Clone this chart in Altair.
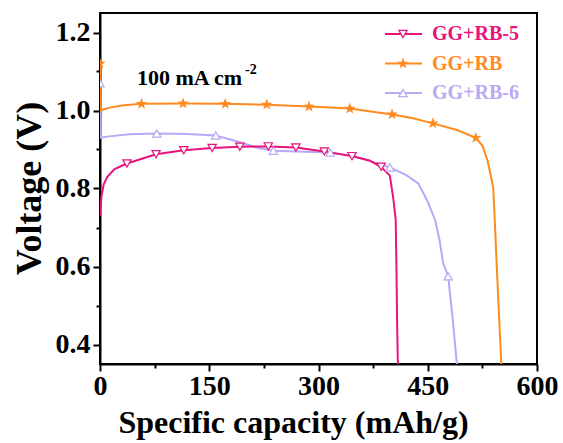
import altair as alt
import pandas as pd

# ---- data ----
SERIES = ["GG+RB-5", "GG+RB", "GG+RB-6"]
LINE_COLORS = ["#E8137C", "#FF8A1E", "#B9A8F5"]
TEXT_COLORS = ["#E0157A", "#EE8B63", "#BBAAF5"]
MARKER_FILLS = ["#FFFFFF", "#FF8A1E", "#FFFFFF"]

# GG+RB-5 (pink)
rb5_x = [0, 2, 5, 10, 20, 37, 77, 115, 154, 192, 231, 269, 308, 346, 370, 386, 398, 403, 406, 407, 408, 409]
rb5_y = [0.73, 0.78, 0.81, 0.83, 0.85, 0.864, 0.888, 0.898, 0.904, 0.907, 0.908, 0.905, 0.895, 0.883,
         0.872, 0.855, 0.833, 0.77, 0.72, 0.60, 0.45, 0.35]
rb5_mx = [37, 77, 115, 154, 192, 231, 269, 308, 346, 386]
rb5_my = [0.864, 0.888, 0.898, 0.904, 0.907, 0.908, 0.905, 0.895, 0.883, 0.856]

# GG+RB (orange)
rb_x = [0, 0.5, 5, 15, 30, 57, 114, 172, 229, 287, 343, 401, 430, 457, 490, 516, 525, 532, 537, 540,
        542, 545, 548, 551]
rb_y = [1.12, 1.00, 1.003, 1.008, 1.013, 1.017, 1.018, 1.017, 1.015, 1.01, 1.005, 0.99, 0.98, 0.967,
        0.95, 0.93, 0.91, 0.872, 0.83, 0.80, 0.72, 0.59, 0.47, 0.35]
rb_mx = [0, 57, 114, 172, 229, 287, 343, 401, 457, 516]
rb_my = [1.12, 1.017, 1.018, 1.017, 1.015, 1.01, 1.005, 0.99, 0.967, 0.93]

# GG+RB-6 (lavender)
rb6_x = [0, 1, 10, 40, 78, 120, 159, 190, 215, 238, 270, 316, 350, 375, 398, 420, 437, 449, 460, 466,
         471, 478, 484, 490]
rb6_y = [1.07, 0.93, 0.933, 0.939, 0.941, 0.94, 0.936, 0.92, 0.905, 0.897, 0.895, 0.892, 0.882, 0.868,
         0.854, 0.835, 0.813, 0.77, 0.72, 0.67, 0.61, 0.575, 0.47, 0.35]
rb6_mx = [0, 78, 159, 238, 316, 398, 478]
rb6_my = [1.07, 0.941, 0.936, 0.897, 0.892, 0.854, 0.575]

X_TICKS = [0, 75, 150, 225, 300, 375, 450, 525, 600]
Y_TICKS = [0.4, 0.5, 0.6, 0.7, 0.8, 0.9, 1.0, 1.1, 1.2]
ANNOT_MAIN = "100 mA cm"
ANNOT_SUP = "-2"
X_TITLE = "Specific capacity (mAh/g)"
Y_TITLE = "Voltage (V)"

STAR = ("M0,-1L0.235,-0.324L0.951,-0.309L0.38,0.124L0.588,0.809L0,0.4"
        "L-0.588,0.809L-0.38,0.124L-0.951,-0.309L-0.235,-0.324Z")
SHAPES = ["triangle-down", STAR, "triangle-up"]

FONT = "Liberation Serif"

# ---- tables ----
def long(name, xs, ys):
    return pd.DataFrame({"series": name, "x": xs, "y": ys, "order": range(len(xs))})

lines_df = pd.concat([long("GG+RB-6", rb6_x, rb6_y), long("GG+RB-5", rb5_x, rb5_y),
                      long("GG+RB", rb_x, rb_y)])
marks_df = pd.concat([long("GG+RB-6", rb6_mx, rb6_my), long("GG+RB-5", rb5_mx, rb5_my),
                      long("GG+RB", rb_mx, rb_my)])
legend_df = pd.DataFrame({"series": SERIES, "idx": range(len(SERIES))})

xscale = alt.Scale(domain=[0, 600], nice=False, zero=False)
yscale = alt.Scale(domain=[0.35, 1.25], nice=False, zero=False)
color_scale = alt.Scale(domain=SERIES, range=LINE_COLORS)
fill_scale = alt.Scale(domain=SERIES, range=MARKER_FILLS)
shape_scale = alt.Scale(domain=SERIES, range=SHAPES)
text_scale = alt.Scale(domain=SERIES, range=TEXT_COLORS)

x_axis = alt.Axis(
    values=X_TICKS,
    labelExpr="datum.value % 150 === 0 ? datum.label : ''",
    tickSize={"condition": {"test": "datum.value % 150 === 0", "value": 7}, "value": 4},
    tickWidth=2, tickColor="black", domainWidth=2, domainColor="black", grid=False,
    labelFont=FONT, labelFontWeight="bold", labelFontSize=28, labelColor="black", labelPadding=1,
    labelFlush=False, labelOverlap=False,
    title=X_TITLE, titleFont=FONT, titleFontWeight="bold", titleFontSize=32, titleColor="black",
    titleX=193, titleY=68, titleAlign="center", titleBaseline="alphabetic",
)
y_axis = alt.Axis(
    values=Y_TICKS, format=".1f",
    labelExpr="round(datum.value * 10) % 2 === 0 ? datum.label : ''",
    tickSize={"condition": {"test": "round(datum.value * 10) % 2 === 0", "value": 7}, "value": 4},
    tickWidth=2, tickColor="black", domainWidth=2, domainColor="black", grid=False,
    labelFont=FONT, labelFontWeight="bold", labelFontSize=28, labelColor="black", labelPadding=3,
    labelFlush=False, labelOverlap=False,
    title=Y_TITLE, titleFont=FONT, titleFontWeight="bold", titleFontSize=36, titleColor="black",
    titleX=-60, titleY=175, titleAngle=270, titleAlign="center", titleBaseline="alphabetic",
)

lines = alt.Chart(lines_df).mark_line(strokeWidth=2, clip=True).encode(
    x=alt.X("x:Q", scale=xscale, axis=x_axis),
    y=alt.Y("y:Q", scale=yscale, axis=y_axis),
    color=alt.Color("series:N", scale=color_scale, legend=None),
    detail="series:N",
    order="order:Q",
)

points = alt.Chart(marks_df).mark_point(size=70, strokeWidth=1.2, opacity=1, filled=False,
                                        clip=True).encode(
    x=alt.X("x:Q", scale=xscale),
    y=alt.Y("y:Q", scale=yscale),
    stroke=alt.Stroke("series:N", scale=color_scale, legend=None),
    fill=alt.Fill("series:N", scale=fill_scale, legend=None),
    shape=alt.Shape("series:N", scale=shape_scale, legend=None),
)

# ---- legend built from the series list ----
leg_base = alt.Chart(legend_df).transform_calculate(
    py="21 + 29.5 * datum.idx", lx0="285", lx1="322", mx="303", tx="332"
)
leg_lines = leg_base.mark_rule(strokeWidth=2).encode(
    x=alt.X("lx0:Q", scale=None), x2="lx1:Q", y=alt.Y("py:Q", scale=None),
    color=alt.Color("series:N", scale=color_scale, legend=None),
)
leg_points = leg_base.mark_point(size=70, strokeWidth=1.2, opacity=1).encode(
    x=alt.X("mx:Q", scale=None), y=alt.Y("py:Q", scale=None),
    stroke=alt.Stroke("series:N", scale=color_scale, legend=None),
    fill=alt.Fill("series:N", scale=fill_scale, legend=None),
    shape=alt.Shape("series:N", scale=shape_scale, legend=None),
)
leg_text = leg_base.mark_text(align="left", baseline="middle", font=FONT, fontWeight="bold",
                              fontSize=20).encode(
    x=alt.X("tx:Q", scale=None), y=alt.Y("py:Q", scale=None),
    text="series:N",
    color=alt.Color("series:N", scale=text_scale, legend=None),
)

annot = alt.Chart(pd.DataFrame({"t": [ANNOT_MAIN]})).mark_text(
    align="left", baseline="alphabetic", font=FONT, fontWeight="bold", fontSize=22, color="black"
).encode(x=alt.value(37), y=alt.value(72), text="t:N")
annot_sup = alt.Chart(pd.DataFrame({"t": [ANNOT_SUP]})).mark_text(
    align="left", baseline="alphabetic", font=FONT, fontWeight="bold", fontSize=14, color="black"
).encode(x=alt.value(145), y=alt.value(61), text="t:N")

chart = alt.layer(lines, points, leg_lines, leg_points, leg_text, annot, annot_sup).resolve_scale(
    color="shared", stroke="shared", fill="shared", shape="shared"
).properties(
    width=437, height=351,
    autosize=alt.AutoSizeParams(type="none"),
    padding={"left": 100, "top": 13, "right": 26, "bottom": 79},
    background="white",
).configure_view(stroke="black", strokeWidth=2)

chart.save("out.html", embed_options={"renderer": "svg", "actions": False})
